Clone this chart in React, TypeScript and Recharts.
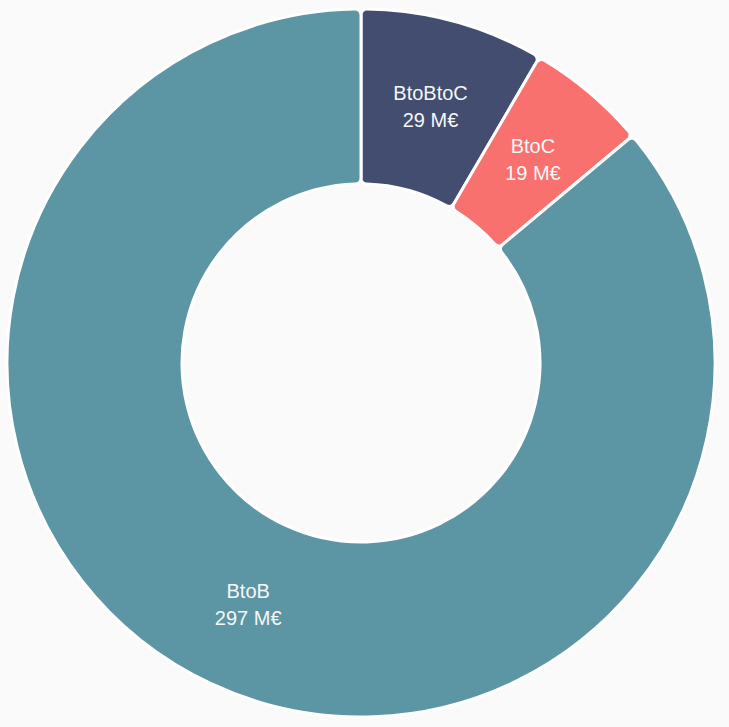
import { PieChart, Pie, Cell } from "recharts";

const CATEGORIES = ["BtoBtoC", "BtoC", "BtoB"];
const VALUES = [29, 19, 297];
const COLORS = ["#424d6f", "#f8716e", "#5c95a3"];

const data = CATEGORIES.map((name, i) => ({ name, value: VALUES[i] }));

const RAD = Math.PI / 180;

function renderLabel(props: any) {
  const { cx, cy, midAngle, innerRadius, outerRadius, index } = props;
  const r = (innerRadius + outerRadius) / 2;
  const x = cx + r * Math.cos(-midAngle * RAD);
  const y = cy + r * Math.sin(-midAngle * RAD);
  return (
    <text
      x={x}
      y={y}
      fill="#f7f7f7"
      textAnchor="middle"
      fontSize={20}
      fontFamily="'Liberation Sans', Arial, sans-serif"
    >
      <tspan x={x} y={y - 13} dominantBaseline="central">
        {CATEGORIES[index]}
      </tspan>
      <tspan x={x} y={y + 14} dominantBaseline="central">
        {VALUES[index]} M€
      </tspan>
    </text>
  );
}

export default function App() {
  return (
    <div
      style={{
        position: "fixed",
        left: 0,
        top: 0,
        width: 729,
        height: 727,
        background: "#fafafa",
      }}
    >
      <PieChart width={729} height={727}>
        <Pie
          data={data}
          dataKey="value"
          nameKey="name"
          cx={356}
          cy={358}
          innerRadius={179}
          outerRadius={354}
          startAngle={90}
          endAngle={-270}
          cornerRadius={6}
          stroke="#ffffff"
          strokeWidth={3}
          label={renderLabel}
          labelLine={false}
          isAnimationActive={false}
        >
          {data.map((d, i) => (
            <Cell key={d.name} fill={COLORS[i]} />
          ))}
        </Pie>
      </PieChart>
    </div>
  );
}
